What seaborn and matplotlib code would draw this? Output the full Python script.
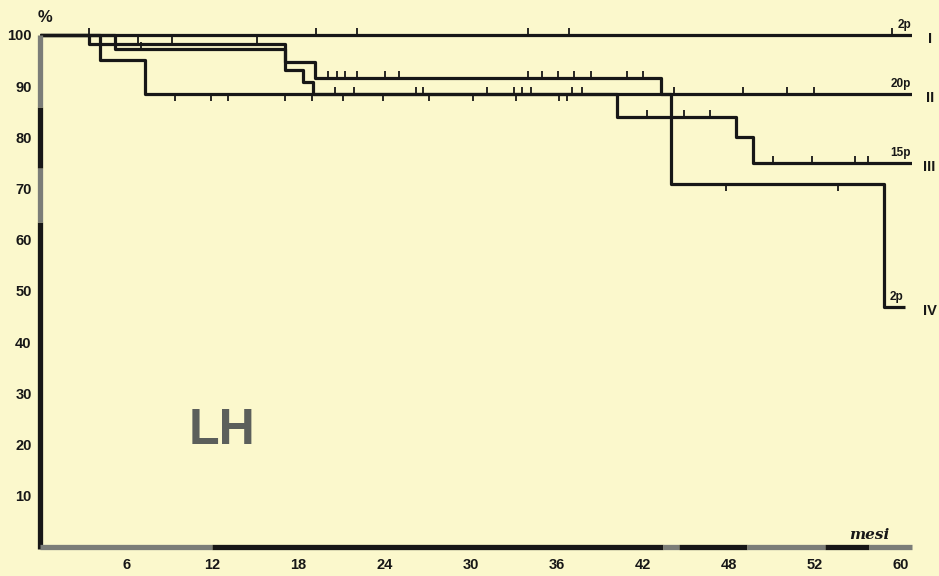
import numpy as np
import pandas as pd
import matplotlib
matplotlib.use("Agg")
import matplotlib.pyplot as plt
import seaborn as sns

# ---------------- data ----------------
curve_names = ["I", "II", "III", "IV"]
end_labels = ["2p", "20p", "15p", "2p"]

i_times = [0, 60.8]
i_surv = [100, 100]
ii_times = [0, 4.18, 7.32, 60.8]
ii_surv = [100, 95.0, 88.5, 88.5]
iii_times = [0, 5.23, 17.07, 18.33, 19.02, 40.2, 48.5, 49.7, 60.8]
iii_surv = [100, 97.3, 93.2, 90.8, 88.5, 84.0, 80.1, 75.0, 75.0]
iv_times = [0, 3.41, 17.07, 19.16, 43.3, 44.0, 58.8, 60.3]
iv_surv = [100, 98.3, 94.7, 91.6, 88.5, 70.9, 46.9, 46.9]

# censoring marks (months); "up" drawn above the line, "down" below
i_cens_up = [3.41, 19.2, 22.1, 34.0, 36.9, 59.4]
i_cens_down = []
ii_cens_up = [44.18, 48.99, 52.06, 53.94]
ii_cens_down = [9.41, 11.92, 13.10, 17.07, 18.95, 21.11, 23.90, 27.11,
                30.17, 33.17, 36.17, 36.72]
iii_cens_up = [7.04, 20.56, 21.88, 26.20, 26.69, 31.15, 33.03, 33.59, 34.22,
               37.07, 37.77, 42.3, 44.88, 46.69, 51.08, 53.8, 56.79, 57.7]
iii_cens_down = []
iv_cens_up = [6.83, 9.2, 15.12, 20.07, 20.70, 21.25, 22.09, 24.04, 25.02,
              34.0, 34.98, 36.1, 37.21, 38.4, 40.91, 42.02]
iv_cens_down = [47.8, 55.61]

x_ticks = [6, 12, 18, 24, 30, 36, 42, 48, 54, 60]
x_tick_labels = ["6", "12", "18", "24", "30", "36", "42", "48", "52", "60"]
y_ticks = [10, 20, 30, 40, 50, 60, 70, 80, 90, 100]

# ---------------- style ----------------
BG = "#fbf8cc"
INK = "#171717"
GRAY = "#7b7d78"

sns.set_style("white")
plt.rcParams["font.family"] = ["Liberation Sans", "DejaVu Sans"]

fig = plt.figure(figsize=(9.39, 5.76), dpi=100)
fig.patch.set_facecolor(BG)
ax = fig.add_axes([40 / 939, 29 / 576, 872 / 939, 527 / 576])
ax.set_facecolor(BG)

times_all = [i_times, ii_times, iii_times, iv_times]
surv_all = [i_surv, ii_surv, iii_surv, iv_surv]
rows = []
for name, t, s in zip(curve_names, times_all, surv_all):
    for tt, ss in zip(t, s):
        rows.append({"curve": name, "t": tt, "s": ss})
df = pd.DataFrame(rows)

sns.lineplot(data=df, x="t", y="s", hue="curve",
             palette={n: INK for n in curve_names},
             estimator=None, drawstyle="steps-post", legend=False,
             linewidth=2.3, ax=ax, solid_capstyle="butt")

def step_value(times, surv, t):
    idx = np.searchsorted(np.asarray(times), t, side="right") - 1
    return surv[idx]

TICK = 1.4
cens_up_all = [i_cens_up, ii_cens_up, iii_cens_up, iv_cens_up]
cens_dn_all = [i_cens_down, ii_cens_down, iii_cens_down, iv_cens_down]
for t, s, ups, dns in zip(times_all, surv_all, cens_up_all, cens_dn_all):
    for c in ups:
        v = step_value(t, s, c)
        ax.vlines(c, v, v + TICK, color=INK, lw=1.3)
    for c in dns:
        v = step_value(t, s, c)
        ax.vlines(c, v - TICK, v, color=INK, lw=1.3)

# end labels & roman numerals
for name, lab, t, s in zip(curve_names, end_labels, times_all, surv_all):
    ax.text(t[-1] - 0.1, s[-1] + 0.7, lab, ha="right", va="bottom",
            fontsize=8.5, fontweight="bold", color=INK, clip_on=False)
    ax.text(62.0, s[-1] - 0.9, name, ha="center", va="center",
            fontsize=10.5, fontweight="bold", color=INK, clip_on=False)

# axes limits and ticks
ax.set_xlim(0, 60.77)
ax.set_ylim(0, 102.9)
ax.set_xticks(x_ticks)
ax.set_xticklabels(x_tick_labels)
ax.set_yticks(y_ticks)
ax.set_yticklabels([str(v) for v in y_ticks])
ax.tick_params(axis="both", direction="out", length=5, width=1.2,
               color=INK, labelcolor=INK, labelsize=10.5)
ax.tick_params(axis="x", pad=3)
ax.tick_params(axis="y", pad=1)
for lbl in ax.get_xticklabels() + ax.get_yticklabels():
    lbl.set_fontweight("bold")
ax.set_xlabel("")
ax.set_ylabel("")

for sp in ax.spines.values():
    sp.set_visible(False)

# thick axis lines (printed with gray patches)
left_segments = [(-0.35, 63.5, INK), (63.5, 74.0, GRAY), (74.0, 86.0, INK), (86.0, 100.0, GRAY)]
for y0, y1, col in left_segments:
    ax.plot([0, 0], [y0, y1], color=col, lw=3.8, solid_capstyle="butt", clip_on=False)
bottom_segments = [(0, 12.0, GRAY), (12.0, 43.4, INK), (43.4, 44.5, GRAY),
                   (44.5, 49.3, INK), (49.3, 54.7, GRAY), (54.7, 57.8, INK),
                   (57.8, 60.8, GRAY)]
for x0, x1, col in bottom_segments:
    ax.plot([x0, x1], [0, 0], color=col, lw=3.8, solid_capstyle="butt", clip_on=False)

# annotations
ax.text(0.35, 103.4, "%", ha="center", va="center", fontsize=12,
        fontweight="bold", color=INK, clip_on=False)
ax.text(57.8, 0.9, "mesi", ha="center", va="bottom", fontsize=11,
        family=["DejaVu Serif"], style="italic", fontweight="bold",
        color=INK, clip_on=False)
ax.text(12.7, 22.7, "LH", ha="center", va="center", fontsize=36,
        fontweight="bold", color="#5b5f5b")

fig.savefig("out.png", dpi=100, facecolor=BG)
